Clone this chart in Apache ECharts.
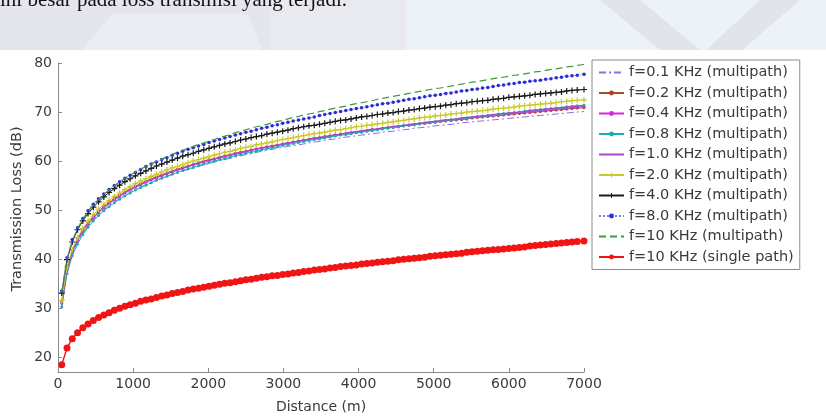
<!DOCTYPE html>
<html><head><meta charset="utf-8">
<script src="https://cdn.jsdelivr.net/npm/echarts@6/dist/echarts.min.js"></script>
<style>html,body{margin:0;padding:0;background:#fff}#c{width:826px;height:420px}</style>
</head><body><div id="c"></div><script>
// ---- data ----
const distance = [50,120,190,260,330,400,470,540,610,680,750,820,890,960,1030,1100,1170,1240,1310,1380,1450,1520,1590,1660,1730,1800,1870,1940,2010,2080,2150,2220,2290,2360,2430,2500,2570,2640,2710,2780,2850,2920,2990,3060,3130,3200,3270,3340,3410,3480,3550,3620,3690,3760,3830,3900,3970,4040,4110,4180,4250,4320,4390,4460,4530,4600,4670,4740,4810,4880,4950,5020,5090,5160,5230,5300,5370,5440,5510,5580,5650,5720,5790,5860,5930,6000,6070,6140,6210,6280,6350,6420,6490,6560,6630,6700,6770,6840,6910,7000];
const seriesNames = ['f=0.1 KHz (multipath)','f=0.2 KHz (multipath)','f=0.4 KHz (multipath)','f=0.8 KHz (multipath)','f=1.0 KHz (multipath)','f=2.0 KHz (multipath)','f=4.0 KHz (multipath)','f=8.0 KHz (multipath)','f=10 KHz (multipath)','f=10 KHz (single path)'];
const tl_01 = [30.6,37.4,41.0,43.4,45.2,46.7,48.0,49.1,50.0,50.9,51.7,52.4,53.0,53.6,54.2,54.7,55.2,55.7,56.1,56.5,56.9,57.3,57.6,58.0,58.3,58.6,58.9,59.2,59.5,59.8,60.1,60.3,60.6,60.8,61.1,61.3,61.5,61.8,62.0,62.2,62.4,62.6,62.8,63.0,63.2,63.3,63.5,63.7,63.9,64.0,64.2,64.4,64.5,64.7,64.9,65.0,65.2,65.3,65.4,65.6,65.7,65.9,66.0,66.1,66.3,66.4,66.5,66.7,66.8,66.9,67.0,67.2,67.3,67.4,67.5,67.6,67.8,67.9,68.0,68.1,68.2,68.3,68.4,68.5,68.6,68.7,68.8,68.9,69.0,69.1,69.2,69.3,69.4,69.5,69.6,69.7,69.8,69.9,70.0,70.1];
const tl_02 = [31.3,38.1,41.7,44.1,46.0,47.4,48.7,49.8,50.8,51.6,52.4,53.1,53.7,54.3,54.9,55.4,55.9,56.4,56.8,57.2,57.6,58.0,58.4,58.7,59.0,59.4,59.7,60.0,60.3,60.5,60.8,61.1,61.3,61.6,61.8,62.0,62.3,62.5,62.7,62.9,63.1,63.3,63.5,63.7,63.9,64.1,64.3,64.4,64.6,64.8,65.0,65.1,65.3,65.5,65.6,65.8,65.9,66.1,66.2,66.4,66.5,66.6,66.8,66.9,67.0,67.2,67.3,67.4,67.6,67.7,67.8,67.9,68.1,68.2,68.3,68.4,68.5,68.6,68.8,68.9,69.0,69.1,69.2,69.3,69.4,69.5,69.6,69.7,69.8,69.9,70.0,70.1,70.2,70.3,70.4,70.5,70.6,70.7,70.8,70.9];
const tl_04 = [31.0,37.8,41.4,43.8,45.7,47.2,48.4,49.5,50.5,51.4,52.1,52.8,53.5,54.1,54.7,55.2,55.7,56.2,56.6,57.0,57.4,57.8,58.2,58.5,58.9,59.2,59.5,59.8,60.1,60.4,60.7,60.9,61.2,61.4,61.7,61.9,62.2,62.4,62.6,62.8,63.0,63.2,63.4,63.6,63.8,64.0,64.2,64.4,64.6,64.7,64.9,65.1,65.3,65.4,65.6,65.7,65.9,66.0,66.2,66.4,66.5,66.7,66.8,66.9,67.1,67.2,67.3,67.5,67.6,67.7,67.9,68.0,68.1,68.3,68.4,68.5,68.6,68.7,68.9,69.0,69.1,69.2,69.3,69.4,69.5,69.7,69.8,69.9,70.0,70.1,70.2,70.3,70.4,70.5,70.6,70.7,70.8,70.9,71.0,71.1];
const tl_08 = [30.3,37.1,40.7,43.1,45.0,46.5,47.8,48.9,49.9,50.7,51.5,52.2,52.9,53.5,54.1,54.6,55.1,55.6,56.1,56.5,56.9,57.3,57.7,58.1,58.4,58.7,59.1,59.4,59.7,60.0,60.3,60.5,60.8,61.1,61.3,61.6,61.8,62.0,62.3,62.5,62.7,62.9,63.2,63.4,63.6,63.8,64.0,64.2,64.4,64.5,64.7,64.9,65.1,65.3,65.4,65.6,65.8,65.9,66.1,66.2,66.4,66.6,66.7,66.9,67.0,67.2,67.3,67.4,67.6,67.7,67.9,68.0,68.1,68.3,68.4,68.5,68.7,68.8,68.9,69.1,69.2,69.3,69.4,69.6,69.7,69.8,69.9,70.0,70.2,70.3,70.4,70.5,70.6,70.7,70.8,70.9,71.1,71.2,71.3,71.4];
const tl_10 = [31.0,37.8,41.4,43.8,45.7,47.2,48.4,49.6,50.5,51.4,52.2,52.9,53.5,54.1,54.7,55.2,55.7,56.2,56.6,57.0,57.5,57.8,58.2,58.6,58.9,59.2,59.6,59.9,60.2,60.4,60.7,61.0,61.2,61.5,61.8,62.0,62.2,62.5,62.7,62.9,63.1,63.3,63.5,63.7,63.9,64.1,64.3,64.5,64.7,64.8,65.0,65.2,65.4,65.5,65.7,65.9,66.0,66.2,66.3,66.5,66.6,66.8,66.9,67.1,67.2,67.3,67.5,67.6,67.7,67.9,68.0,68.1,68.3,68.4,68.5,68.6,68.8,68.9,69.0,69.1,69.2,69.4,69.5,69.6,69.7,69.8,69.9,70.0,70.1,70.3,70.4,70.5,70.6,70.7,70.8,70.9,71.0,71.1,71.2,71.3];
const tl_20 = [31.6,38.4,42.0,44.4,46.3,47.8,49.1,50.2,51.2,52.0,52.8,53.5,54.2,54.8,55.4,55.9,56.4,56.9,57.3,57.8,58.2,58.6,58.9,59.3,59.7,60.0,60.3,60.6,60.9,61.2,61.5,61.8,62.0,62.3,62.6,62.8,63.0,63.3,63.5,63.7,63.9,64.2,64.4,64.6,64.8,65.0,65.2,65.4,65.6,65.7,65.9,66.1,66.3,66.4,66.6,66.8,67.0,67.1,67.3,67.4,67.6,67.7,67.9,68.0,68.2,68.3,68.5,68.6,68.8,68.9,69.0,69.2,69.3,69.4,69.6,69.7,69.8,70.0,70.1,70.2,70.3,70.4,70.6,70.7,70.8,70.9,71.0,71.2,71.3,71.4,71.5,71.6,71.7,71.8,71.9,72.1,72.2,72.3,72.4,72.5];
const tl_40 = [33.1,39.9,43.5,46.0,47.8,49.3,50.6,51.7,52.7,53.6,54.4,55.1,55.8,56.4,57.0,57.5,58.0,58.5,59.0,59.4,59.8,60.2,60.6,61.0,61.3,61.6,62.0,62.3,62.6,62.9,63.2,63.5,63.7,64.0,64.3,64.5,64.8,65.0,65.2,65.5,65.7,65.9,66.1,66.3,66.6,66.8,67.0,67.2,67.3,67.5,67.7,67.9,68.1,68.3,68.4,68.6,68.8,69.0,69.1,69.3,69.5,69.6,69.8,69.9,70.1,70.2,70.4,70.5,70.7,70.8,71.0,71.1,71.2,71.4,71.5,71.7,71.8,71.9,72.1,72.2,72.3,72.4,72.6,72.7,72.8,73.0,73.1,73.2,73.3,73.4,73.6,73.7,73.8,73.9,74.0,74.1,74.3,74.4,74.5,74.6];
const tl_80 = [33.5,40.3,44.0,46.4,48.3,49.9,51.2,52.3,53.3,54.2,55.0,55.8,56.5,57.1,57.7,58.3,58.9,59.4,59.8,60.3,60.7,61.2,61.6,62.0,62.4,62.7,63.1,63.4,63.8,64.1,64.4,64.7,65.0,65.3,65.6,65.9,66.1,66.4,66.7,66.9,67.2,67.4,67.7,67.9,68.2,68.4,68.6,68.8,69.0,69.3,69.5,69.7,69.9,70.1,70.3,70.5,70.7,70.9,71.1,71.3,71.5,71.7,71.8,72.0,72.2,72.4,72.6,72.7,72.9,73.1,73.3,73.4,73.6,73.8,73.9,74.1,74.3,74.4,74.6,74.7,74.9,75.0,75.2,75.4,75.5,75.7,75.8,76.0,76.1,76.3,76.4,76.5,76.7,76.8,77.0,77.1,77.3,77.4,77.5,77.7];
const tl_100 = [33.2,40.1,43.7,46.2,48.1,49.7,51.0,52.2,53.2,54.1,55.0,55.7,56.5,57.1,57.8,58.4,58.9,59.4,60.0,60.4,60.9,61.4,61.8,62.2,62.6,63.0,63.4,63.7,64.1,64.4,64.8,65.1,65.4,65.8,66.1,66.4,66.7,67.0,67.2,67.5,67.8,68.1,68.3,68.6,68.9,69.1,69.4,69.6,69.8,70.1,70.3,70.6,70.8,71.0,71.2,71.5,71.7,71.9,72.1,72.3,72.6,72.8,73.0,73.2,73.4,73.6,73.8,74.0,74.2,74.4,74.6,74.8,74.9,75.1,75.3,75.5,75.7,75.9,76.1,76.2,76.4,76.6,76.8,77.0,77.1,77.3,77.5,77.6,77.8,78.0,78.2,78.3,78.5,78.7,78.8,79.0,79.2,79.3,79.5,79.7];
const tl_single = [18.5,21.9,23.8,25.0,26.0,26.8,27.5,28.1,28.6,29.1,29.6,30.0,30.4,30.7,31.0,31.4,31.7,31.9,32.2,32.5,32.7,33.0,33.2,33.4,33.7,33.9,34.1,34.3,34.5,34.7,34.9,35.1,35.2,35.4,35.6,35.8,35.9,36.1,36.3,36.4,36.6,36.7,36.9,37.0,37.2,37.3,37.5,37.6,37.8,37.9,38.0,38.2,38.3,38.5,38.6,38.7,38.8,39.0,39.1,39.2,39.4,39.5,39.6,39.7,39.9,40.0,40.1,40.2,40.3,40.4,40.6,40.7,40.8,40.9,41.0,41.1,41.2,41.4,41.5,41.6,41.7,41.8,41.9,42.0,42.1,42.2,42.3,42.4,42.5,42.7,42.8,42.9,43.0,43.1,43.2,43.3,43.4,43.5,43.6,43.7];
const yTicks = [20,30,40,50,60,70,80];
const xTicks = [0,1000,2000,3000,4000,5000,6000,7000];
const headerText = 'ini besar pada loss transmisi yang terjadi.';

// ---- styles ----
const PLUS = 'path://M4,0h2v4h4v2h-4v4h-2v-4h-4v-2h4z';
const values = [tl_01,tl_02,tl_04,tl_08,tl_10,tl_20,tl_40,tl_80,tl_100,tl_single];
const styles = [
  {line:'#8a6fe6', mark:'#8a6fe6', type:[7,3,2,3], symbol:'none', size:0, width:1},
  {line:'#a0522d', mark:'#b83a2a', type:'solid', symbol:'circle', size:3, width:1},
  {line:'#dd22dd', mark:'#dd22dd', type:'solid', symbol:'circle', size:3, width:1},
  {line:'#1aaeb0', mark:'#1aaeb0', type:'solid', symbol:'circle', size:3, width:1},
  {line:'#a64ac9', mark:'#a64ac9', type:'solid', symbol:'none', size:0, width:1.2},
  {line:'#c9c92a', mark:'#c9c92a', type:'solid', symbol:PLUS, size:6, width:1},
  {line:'#1a1a1a', mark:'#1a1a1a', type:'solid', symbol:PLUS, size:6, width:1},
  {line:'#7a7aee', mark:'#2b2bd8', type:'dotted', symbol:'circle', size:3.5, width:1},
  {line:'#3c9a3c', mark:'#3c9a3c', type:[7,4], symbol:'none', size:0, width:1.2},
  {line:'#f01414', mark:'#f01414', type:'solid', symbol:'circle', size:7, width:1.4}
];
const FONT = 'DejaVu Sans';
const TXT = '#3a3a3a';
const AX = '#8a8a8a';

const series = seriesNames.map((name, k) => ({
  name, type:'line',
  data: distance.map((d, i) => [d, values[k][i]]),
  symbol: styles[k].symbol, symbolSize: styles[k].size, showSymbol: styles[k].symbol !== 'none',
  lineStyle: {color: styles[k].line, width: styles[k].width, type: styles[k].type},
  itemStyle: {color: styles[k].mark},
  emphasis: {disabled: true},
  z: 2 + k
}));

const legendData = seriesNames.map((name, k) => styles[k].symbol === 'none'
  ? {name, itemStyle:{color:'rgba(0,0,0,0)', borderWidth:0, opacity:0}}
  : {name});

const chart = echarts.init(document.getElementById('c'), null, {renderer:'canvas'});
chart.setOption({
  animation:false,
  backgroundColor:'#ffffff',
  grid:{left:58, right:242, top:63, bottom:48, containLabel:false, outerBoundsMode:'none'},
  xAxis:{type:'value', min:0, max:7000, interval:1000,
    name:'Distance (m)', nameLocation:'middle', nameGap:28,
    nameTextStyle:{fontFamily:FONT, fontSize:14, color:TXT},
    axisLine:{show:true, onZero:false, lineStyle:{color:AX, width:1}},
    axisTick:{show:true, inside:true, length:4, lineStyle:{color:AX}},
    axisLabel:{fontFamily:FONT, fontSize:14, color:TXT, margin:5, formatter:(v) => String(v)},
    splitLine:{show:false}},
  yAxis:{type:'value', min:17, max:80,
    axisLine:{show:true, onZero:false, lineStyle:{color:AX, width:1}},
    axisTick:{show:true, inside:true, length:4, lineStyle:{color:AX}, customValues:yTicks},
    axisLabel:{fontFamily:FONT, fontSize:14, color:TXT, margin:6, customValues:yTicks, formatter:(v) => String(v)},
    splitLine:{show:false}},
  legend:{show:true, orient:'vertical', left:592, top:60, padding:[5,6,5,6],
    itemWidth:25, itemHeight:6, itemGap:5.5, selectedMode:false,
    backgroundColor:'#ffffff', borderColor:'#8c8c8c', borderWidth:1, borderRadius:0,
    textStyle:{fontFamily:FONT, fontSize:14.5, color:TXT},
    data: legendData},
  graphic:[
    {type:'rect', z:-10, silent:true, shape:{x:0,y:0,width:826,height:50}, style:{fill:'#e5e5ed'}},
    {type:'polygon', z:-9, silent:true, shape:{points:[[82,50],[112,14],[248,14],[262,50]]}, style:{fill:'#ececf3'}},
    {type:'rect', z:-9, silent:true, shape:{x:270,y:0,width:136,height:50}, style:{fill:'#e9e9f0'}},
    {type:'rect', z:-9, silent:true, shape:{x:406,y:0,width:420,height:50}, style:{fill:'#ecf3f6'}},
    {type:'polygon', z:-8, silent:true, shape:{points:[[600,0],[640,0],[700,50],[660,50]]}, style:{fill:'#e3e3ea'}},
    {type:'polygon', z:-8, silent:true, shape:{points:[[760,0],[800,0],[742,50],[706,50]]}, style:{fill:'#e3e3ea'}},
    {type:'text', z:-5, silent:true, x:0, y:11, style:{text:headerText, font:'21px "Liberation Serif"', fill:'#111', textVerticalAlign:'bottom', textAlign:'left'}},
    {type:'text', silent:true, x:17, y:209, rotation:Math.PI/2,
      style:{text:'Transmission Loss (dB)', font:'14.5px "DejaVu Sans"', fill:TXT, textAlign:'center', textVerticalAlign:'middle'}}
  ],
  series
});
</script></body></html>
